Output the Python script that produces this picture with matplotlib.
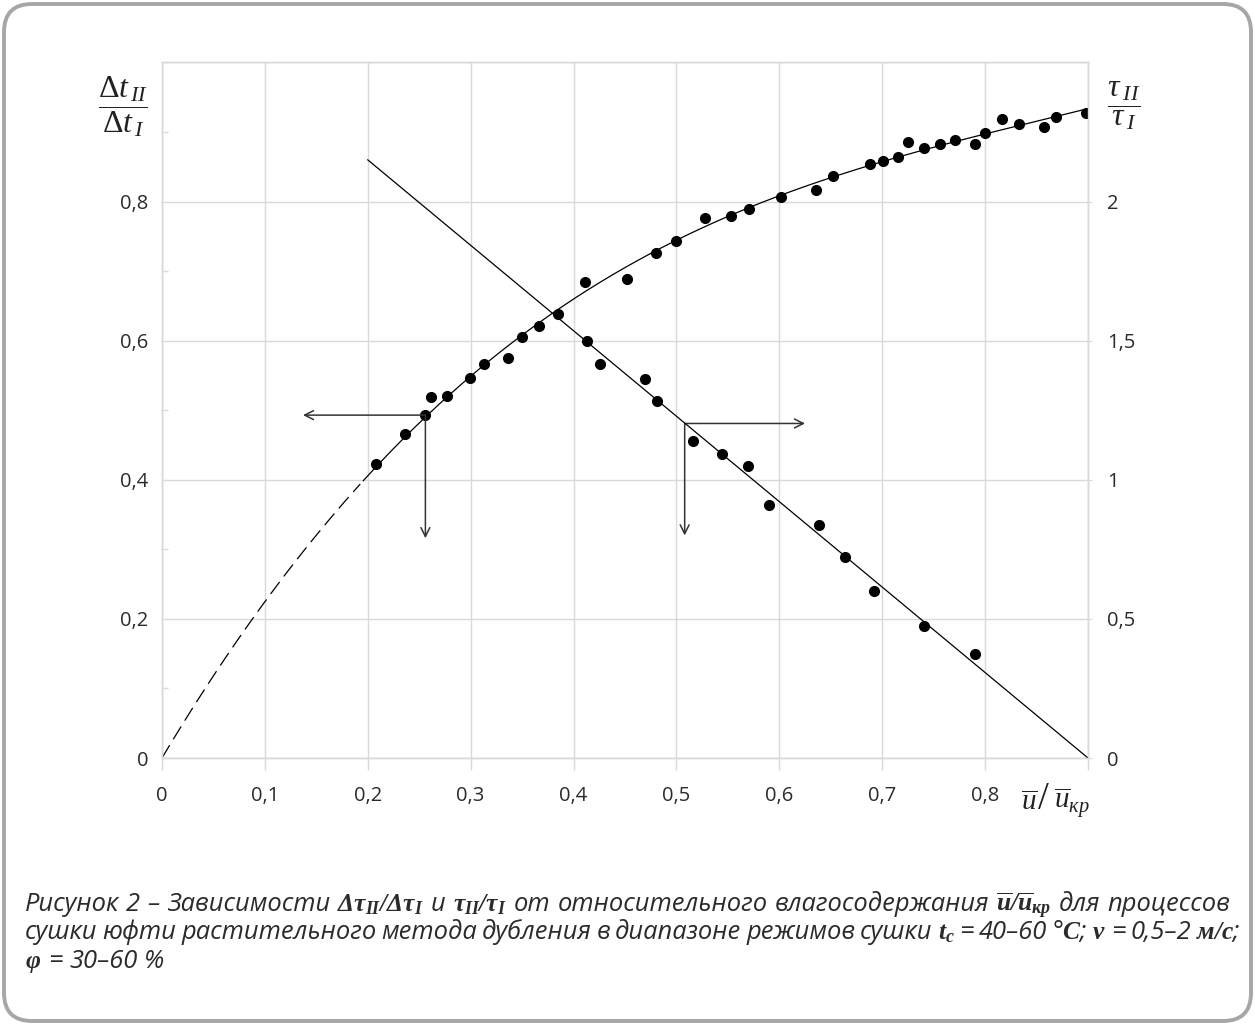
import numpy as np
import matplotlib
matplotlib.use('Agg')
import matplotlib.pyplot as plt
from matplotlib.patches import FancyBboxPatch
from matplotlib.transforms import IdentityTransform

plt.rcParams['font.family'] = ['Open Sans', 'DejaVu Sans']
plt.rcParams['mathtext.fontset'] = 'custom'
plt.rcParams['mathtext.rm'] = 'Liberation Serif'
plt.rcParams['mathtext.it'] = 'Liberation Serif:italic'
plt.rcParams['mathtext.bf'] = 'Liberation Serif:italic:bold'

# rising series: dt_II / dt_I (left axis)
dt_x = np.array([0.208, 0.236, 0.256, 0.261, 0.277, 0.299, 0.313, 0.336, 0.350, 0.366,
                 0.385, 0.411, 0.452, 0.480, 0.500, 0.528, 0.553, 0.571, 0.602, 0.636,
                 0.652, 0.688, 0.701, 0.715, 0.725, 0.741, 0.756, 0.771, 0.790, 0.800,
                 0.816, 0.833, 0.857, 0.869, 0.898])
dt_y = np.array([0.422, 0.466, 0.493, 0.519, 0.520, 0.547, 0.566, 0.575, 0.605, 0.621,
                 0.638, 0.684, 0.688, 0.726, 0.743, 0.776, 0.779, 0.789, 0.806, 0.816,
                 0.837, 0.854, 0.859, 0.864, 0.886, 0.877, 0.883, 0.889, 0.883, 0.898,
                 0.919, 0.911, 0.907, 0.921, 0.928])

# falling series: tau_II / tau_I (right axis)
tau_x = [0.413, 0.426, 0.469, 0.481, 0.516, 0.544, 0.570, 0.590, 0.639, 0.664, 0.692, 0.741, 0.790]
tau_y = [1.499, 1.415, 1.364, 1.283, 1.138, 1.094, 1.050, 0.911, 0.836, 0.724, 0.600, 0.473, 0.374]
tau_line_x = [0.2, 0.9]
tau_line_y = [2.15, 0.0]

x_ticks = [0, 0.1, 0.2, 0.3, 0.4, 0.5, 0.6, 0.7, 0.8, 0.9]
x_labels = ['0', '0,1', '0,2', '0,3', '0,4', '0,5', '0,6', '0,7', '0,8', '']
left_ticks = [0, 0.2, 0.4, 0.6, 0.8, 1.0]
left_labels = ['0', '0,2', '0,4', '0,6', '0,8', '']
right_ticks = [0, 0.5, 1.0, 1.5, 2.0]
right_labels = ['0', '0,5', '1', '1,5', '2']

caption = [
    r'Рисунок 2 – Зависимости $\mathbf{\Delta\tau_{II}/\Delta\tau_{I}}$ и $\mathbf{\tau_{II}/\tau_{I}}$ '
    r'от относительного влагосодержания $\mathbf{\overline{u}/\overline{u}_{кр}}$ для процессов',
    r'сушки юфти растительного метода дубления в диапазоне режимов сушки $\mathbf{t_{c}}$ '
    r'= 40–60 °$\mathbf{C}$; $\mathbf{v}$ = 0,5–2 $\mathbf{м/с}$;',
    r'$\mathbf{\varphi}$ = 30–60 %',
]

GRID = '#d9d9d9'
INK = '#2b2b2b'
W, H = 1255, 1025

fig = plt.figure(figsize=(W / 100, H / 100), dpi=100)
ax = fig.add_axes([162 / W, 1 - 758 / H, 926 / W, 695.5 / H])
ax2 = ax.twinx()

# trend curve through the origin, least squares on the points
A = np.column_stack([dt_x, dt_x ** 2, dt_x ** 3])
coef = np.linalg.lstsq(A, dt_y, rcond=None)[0]
xs = np.linspace(0, 0.9, 300)
ys = coef[0] * xs + coef[1] * xs ** 2 + coef[2] * xs ** 3
dash = xs <= 0.195
ax.plot(xs[dash], ys[dash], color='k', lw=0.9, dashes=(12, 5.5))
ax.plot(xs[~dash], ys[~dash], color='k', lw=0.9)
ax.plot(dt_x, dt_y, 'o', color='k', ms=7, zorder=3)

ax2.plot(tau_line_x, tau_line_y, color='k', lw=0.9)
ax2.plot(tau_x, tau_y, 'o', color='k', ms=7, zorder=3)

# reading arrows
arr = dict(arrowstyle='->', color='#333333', lw=1.1, shrinkA=0, shrinkB=0, mutation_scale=16)
ax.annotate('', xy=(0.137, 0.493), xytext=(0.256, 0.493), arrowprops=arr)
ax.annotate('', xy=(0.256, 0.316), xytext=(0.256, 0.493), arrowprops=arr)
ax.annotate('', xy=(0.625, 0.481), xytext=(0.508, 0.481), arrowprops=arr)
ax.annotate('', xy=(0.508, 0.320), xytext=(0.508, 0.481), arrowprops=arr)

ax.set_xlim(0, 0.9)
ax.set_ylim(0, 1.0)
ax2.set_ylim(0, 2.5)
ax.set_xticks(x_ticks, x_labels)
ax.set_yticks(left_ticks, left_labels)
ax.set_yticks([0.1, 0.3, 0.5, 0.7, 0.9], minor=True)
ax2.set_yticks(right_ticks, right_labels)
ax.grid(True, which='major', color=GRID, lw=1.0)

ax.tick_params(axis='y', which='major', length=0, pad=10, labelsize=14.5, labelcolor=INK)
ax.tick_params(axis='y', which='minor', direction='in', length=4.5, color=GRID, width=1)
ax.tick_params(axis='x', length=8.5, color=GRID, width=1, pad=12, labelsize=14.5, labelcolor=INK)
ax2.tick_params(axis='y', length=3, color=GRID, pad=11, labelsize=14.5, labelcolor=INK)
for a in (ax, ax2):
    for s in a.spines.values():
        s.set_color(GRID)
        s.set_linewidth(1.0)

# axis captions
fig.text(123 / W, 1 - 107 / H, r'$\dfrac{\Delta t_{\,II}}{\Delta t_{\,I}}$',
         fontsize=23, ha='center', va='center', color='#222222')
fig.text(1124 / W, 1 - 106 / H, r'$\dfrac{\tau_{\;II}}{\tau_{\;I}}$',
         fontsize=23, ha='center', va='center', color='#222222')
fig.text(1021 / W, 1 - 803 / H, r'$\overline{u}$', fontsize=21, ha='left', va='center',
         color='#222222')
fig.text(1043 / W, 1 - 799 / H, r'$/$', fontsize=28, ha='center', va='center',
         color='#222222')
fig.text(1054 / W, 1 - 803 / H, r'$\overline{u}_{кр}$', fontsize=21, ha='left',
         va='center', color='#222222')

# caption below the chart, justified like the source
renderer = fig.canvas.get_renderer()


def widths(words, fs):
    out = []
    for w in words:
        t = fig.text(0, 0, w, fontsize=fs, style='italic')
        out.append(t.get_window_extent(renderer).width)
        t.remove()
    return out


left_px = 25
line_right = [1230, 1240, None]
baselines = [911, 939, 968]
fs0 = 15.0
w1 = caption[0].split(' ')
ww = widths(w1, fs0)
natural = sum(ww) + (len(w1) - 1) * 0.26 * fs0 * 100 / 72
fs = fs0 * (line_right[0] - left_px) / natural

for line, right, base in zip(caption, line_right, baselines):
    words = line.split(' ')
    ww = widths(words, fs)
    if right is None:
        gap = 0.26 * fs * 100 / 72
    else:
        gap = (right - left_px - sum(ww)) / (len(words) - 1)
    x = left_px
    for w, wd in zip(words, ww):
        fig.text(x / W, 1 - base / H, w, fontsize=fs, style='italic', color=INK,
                 ha='left', va='baseline')
        x += wd + gap

# rounded frame round the whole picture
frame = FancyBboxPatch((4, 4), W - 8, H - 8, boxstyle='round,pad=0,rounding_size=28',
                       transform=IdentityTransform(), fill=False, edgecolor='#a6a6a6', lw=2.8)
fig.patches.append(frame)

fig.savefig('out.png', dpi=100, facecolor='white')
